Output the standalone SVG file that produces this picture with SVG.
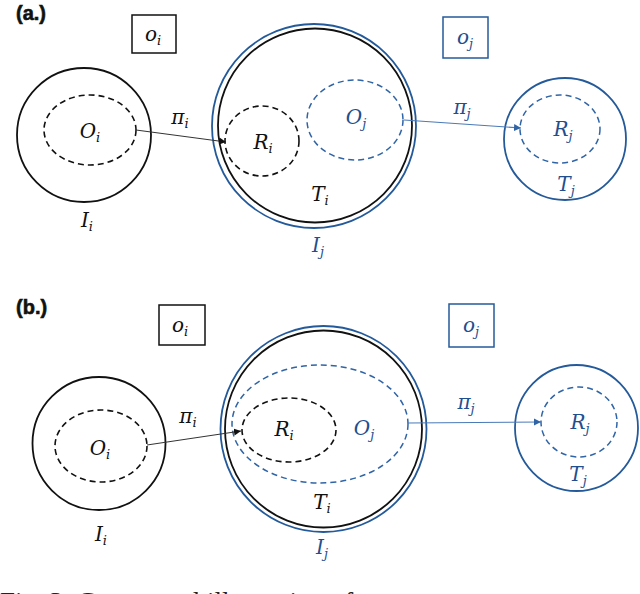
<svg xmlns="http://www.w3.org/2000/svg" width="640" height="594" viewBox="0 0 640 594">
<style>
.k{fill:none;stroke:#111;stroke-width:1.8}
.b{fill:none;stroke:#245a9a;stroke-width:1.8}
.kd{fill:none;stroke:#111;stroke-width:1.6;stroke-dasharray:6 4}
.bd{fill:none;stroke:#2f64a6;stroke-width:1.5;stroke-dasharray:6 4}
.m{font-family:"DejaVu Serif","Liberation Serif",serif;font-style:italic;font-size:20px;text-anchor:middle}
.mk{fill:#111}
.mb{fill:#1f4f8f}
.s{font-size:13px}
.lbl{font-family:"Liberation Sans",Arial,sans-serif;font-weight:bold;font-size:20px;fill:#111;stroke:#111;stroke-width:0.6}
.cap{font-family:"Liberation Serif","Times New Roman",serif;font-size:27px;fill:#222}
.ck{fill:none;stroke:#333;stroke-width:1}
.cb{fill:none;stroke:#4a7ab8;stroke-width:1.2}
</style>
<defs>
<marker id="ak" markerUnits="userSpaceOnUse" markerWidth="8" markerHeight="8" refX="7" refY="4" orient="auto"><path d="M0,0.5 L7,4 L0,7.5 Z" fill="#111"/></marker>
<marker id="ab" markerUnits="userSpaceOnUse" markerWidth="8" markerHeight="8" refX="7" refY="4" orient="auto"><path d="M0,0.5 L7,4 L0,7.5 Z" fill="#2f64a6"/></marker>
</defs>
<rect width="640" height="594" fill="#fff"/>

<!-- Panel (a) -->
<text class="lbl" x="16" y="20">(a.)</text>
<g id="a-box-oi">
<rect x="132" y="15" width="44" height="38" fill="none" stroke="#111" stroke-width="1.5"/>
<text class="m mk" x="153" y="41">o<tspan class="s" dy="4">i</tspan></text>
</g>
<g id="a-box-oj">
<rect x="443" y="17" width="45" height="41" fill="none" stroke="#245a9a" stroke-width="1.5"/>
<text class="m mb" x="465" y="44">o<tspan class="s" dy="4">j</tspan></text>
</g>
<g id="a-Ii">
<circle class="k" cx="84" cy="135" r="67"/>
<text class="m mk" x="87" y="227">I<tspan class="s" dy="4">i</tspan></text>
</g>
<g id="a-Oi">
<ellipse class="kd" cx="90" cy="130" rx="46" ry="35"/>
<text class="m mk" x="90" y="138">O<tspan class="s" dy="4">i</tspan></text>
</g>
<g id="a-Ij">
<circle class="b" cx="314" cy="126" r="102"/>
<text class="m mb" x="318" y="252">I<tspan class="s" dy="4">j</tspan></text>
</g>
<g id="a-Ti">
<circle class="k" cx="315" cy="125.5" r="97"/>
<text class="m mk" x="320" y="201">T<tspan class="s" dy="4">i</tspan></text>
</g>
<g id="a-Ri">
<ellipse class="kd" cx="262" cy="141" rx="37" ry="35"/>
<text class="m mk" x="263" y="149">R<tspan class="s" dy="4">i</tspan></text>
</g>
<g id="a-Oj">
<ellipse class="bd" cx="355" cy="120" rx="48" ry="40"/>
<text class="m mb" x="356" y="124">O<tspan class="s" dy="4">j</tspan></text>
</g>
<g id="a-Tj">
<circle class="b" cx="565" cy="139" r="61"/>
<text class="m mb" x="566" y="191">T<tspan class="s" dy="4">j</tspan></text>
</g>
<g id="a-Rj">
<ellipse class="bd" cx="560" cy="129" rx="40" ry="34"/>
<text class="m mb" x="563" y="136">R<tspan class="s" dy="4">j</tspan></text>
</g>

<!-- Panel (b) -->
<text class="lbl" x="16" y="314">(b.)</text>
<g id="b-box-oi">
<rect x="159" y="305" width="46" height="40" fill="none" stroke="#111" stroke-width="1.5"/>
<text class="m mk" x="180" y="332">o<tspan class="s" dy="4">i</tspan></text>
</g>
<g id="b-box-oj">
<rect x="449" y="304" width="45" height="43" fill="none" stroke="#245a9a" stroke-width="1.5"/>
<text class="m mb" x="471" y="332">o<tspan class="s" dy="4">j</tspan></text>
</g>
<g id="b-Ii">
<circle class="k" cx="99" cy="443.5" r="66.5"/>
<text class="m mk" x="101" y="541">I<tspan class="s" dy="4">i</tspan></text>
</g>
<g id="b-Oi">
<ellipse class="kd" cx="101" cy="446" rx="46" ry="36"/>
<text class="m mk" x="100" y="455">O<tspan class="s" dy="4">i</tspan></text>
</g>
<g id="b-Ij">
<circle class="b" cx="323.5" cy="429" r="103"/>
<text class="m mb" x="322" y="554">I<tspan class="s" dy="4">j</tspan></text>
</g>
<g id="b-Ti">
<circle class="k" cx="323.5" cy="429" r="98.5"/>
<text class="m mk" x="322" y="509">T<tspan class="s" dy="4">i</tspan></text>
</g>
<g id="b-Oj">
<ellipse class="bd" cx="320" cy="424" rx="88" ry="59"/>
<text class="m mb" x="364" y="435">O<tspan class="s" dy="4">j</tspan></text>
</g>
<g id="b-Ri">
<ellipse class="kd" cx="289" cy="430" rx="47" ry="32"/>
<text class="m mk" x="284" y="436">R<tspan class="s" dy="4">i</tspan></text>
</g>
<g id="b-Tj">
<ellipse class="b" cx="576.5" cy="428" rx="61.5" ry="63"/>
<text class="m mb" x="578" y="481">T<tspan class="s" dy="4">j</tspan></text>
</g>
<g id="b-Rj">
<ellipse class="bd" cx="579" cy="422" rx="38" ry="35"/>
<text class="m mb" x="580" y="429">R<tspan class="s" dy="4">j</tspan></text>
</g>

<g id="connectors">
<line class="ck" x1="136" y1="130" x2="226" y2="142" marker-end="url(#ak)"/>
<text class="m mk" x="180" y="124">π<tspan class="s" dy="4">i</tspan></text>
<line class="cb" x1="404" y1="120" x2="521" y2="128" marker-end="url(#ab)"/>
<text class="m mb" x="462" y="114">π<tspan class="s" dy="4">j</tspan></text>
<line class="ck" x1="147" y1="445" x2="241" y2="431" marker-end="url(#ak)"/>
<text class="m mk" x="188" y="423">π<tspan class="s" dy="4">i</tspan></text>
<line class="cb" x1="408" y1="423" x2="541" y2="422" marker-end="url(#ab)"/>
<text class="m mb" x="466" y="409">π<tspan class="s" dy="4">j</tspan></text>
</g>

<text class="cap" x="0" y="611">Fig. 3: Conceptual illustration of</text>
</svg>
